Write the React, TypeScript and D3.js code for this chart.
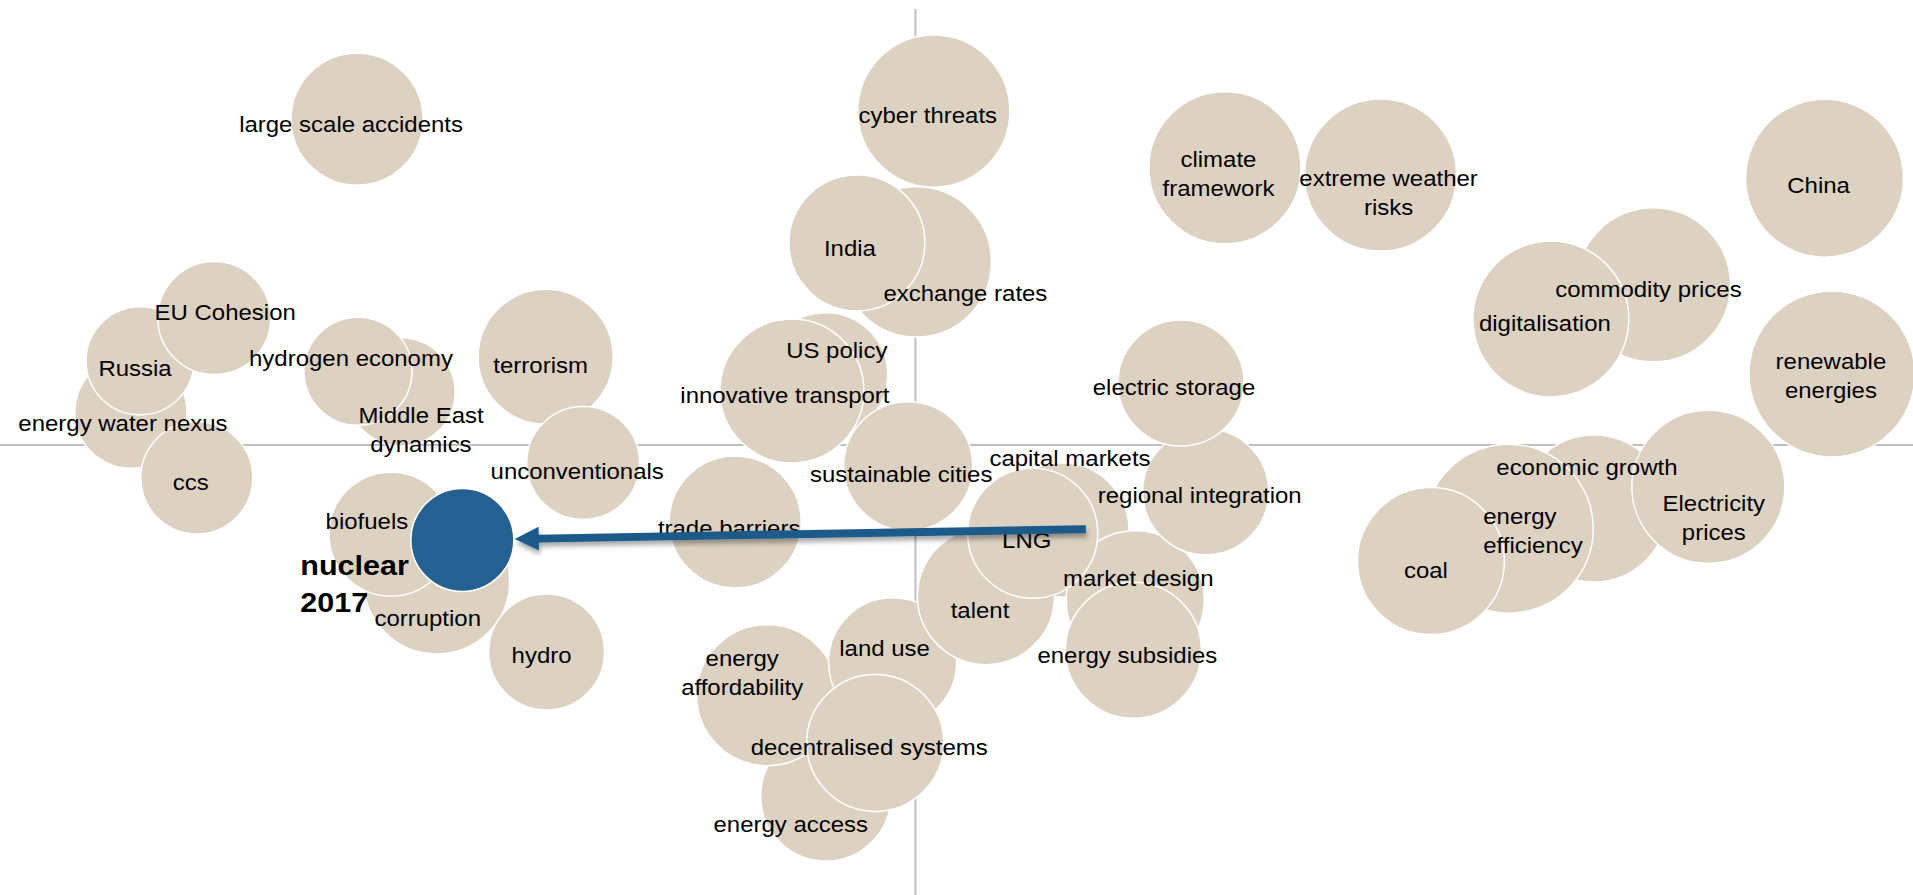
import * as d3 from 'd3';

const W = 1913;
const H = 895;

// topics, in drawing order (later ones sit on top of earlier ones)
const topics = [
  'energy water nexus', 'Russia', 'EU Cohesion', 'ccs', 'Middle East dynamics', 'hydrogen economy',
  'terrorism', 'unconventionals', 'corruption', 'biofuels', 'hydro', 'large scale accidents',
  'exchange rates', 'India', 'cyber threats', 'US policy', 'innovative transport', 'sustainable cities',
  'trade barriers', 'energy access', 'energy affordability', 'land use', 'decentralised systems',
  'capital markets', 'market design', 'energy subsidies', 'talent', 'LNG', 'regional integration',
  'electric storage', 'climate framework', 'extreme weather risks', 'China', 'commodity prices',
  'digitalisation', 'renewable energies', 'economic growth', 'Electricity prices', 'energy efficiency',
  'coal', 'nuclear',
];

// horizontal position (-100..100)
const xValues = [
  -85.7, -84.7, -76.6, -78.5, -56.2, -60.9,
  -40.4, -36.3, -52.3, -57.3, -40.3, -61.0,
  0.1, -6.4, 2.0, -9.8, -13.5, -0.8,
  -19.7, -9.8, -16.2, -2.5, -4.4,
  16.0, 24.0, 23.8, 7.7, 12.8, 31.7,
  29.0, 33.8, 50.8, 99.3, 80.6,
  69.4, 100.1, 74.1, 86.6, 64.8,
  56.3, -49.5,
];

// vertical position (-100..100)
const yValues = [
  7.3, 18.7, 28.2, -7.3, 11.8, 16.4,
  19.6, -4.0, -30.2, -19.8, -46.0, 72.4,
  40.7, 44.9, 74.2, 15.6, 12.0, -4.7,
  -17.1, -78.0, -55.6, -48.2, -66.2,
  -18.9, -34.4, -45.6, -33.6, -19.6, -10.4,
  13.8, 61.6, 60.0, 59.3, 35.6,
  28.0, 15.8, -14.1, -9.3, -18.6,
  -25.8, -21.1,
];

// bubble size
const sizes = [
  31.4, 29.2, 31.9, 31.4, 29.2, 29.2,
  45.6, 31.9, 53.3, 38.4, 33.6, 43.6,
  56.3, 46.2, 57.8, 38.4, 51.8, 41.6,
  43.6, 42.3, 49.7, 41.0, 46.9,
  44.9, 47.6, 46.2, 46.9, 42.3, 39.7,
  39.7, 57.8, 57.8, 62.4, 59.3,
  60.8, 68.9, 54.0, 58.5, 71.4,
  54.0, 26.5,
];

// where nuclear stood before (arrow tail)
const nuclearFrom = { x: 18.6, y: -18.7 };
const highlight = 'nuclear';

// label text broken in lines
const labelLines: Record<string, string[]> = {
  'Middle East dynamics': ['Middle East', 'dynamics'],
  'climate framework': ['climate', 'framework'],
  'extreme weather risks': ['extreme weather', 'risks'],
  'renewable energies': ['renewable', 'energies'],
  'energy affordability': ['energy', 'affordability'],
  'energy efficiency': ['energy', 'efficiency'],
  'Electricity prices': ['Electricity', 'prices'],
  'nuclear': ['nuclear', '2017'],
};

// label nudges in px from bubble centre
const labelNudge: Record<string, [number, number]> = {
  'energy water nexus': [-8, 11], 'Russia': [-5, 7], 'EU Cohesion': [11, -6], 'ccs': [-6, 4],
  'Middle East dynamics': [20, 37.5], 'hydrogen economy': [-7, -13], 'terrorism': [-5, 8],
  'unconventionals': [-6, 8], 'corruption': [-9, 37], 'biofuels': [-24, -13], 'hydro': [-5, 3],
  'large scale accidents': [-6, 5], 'exchange rates': [49, 31], 'India': [-7, 5], 'cyber threats': [-6, 4],
  'US policy': [11, -25], 'innovative transport': [-7, 4], 'sustainable cities': [-7, 8],
  'trade barriers': [-6, 6], 'energy access': [-35, 28], 'energy affordability': [-25, -22.5],
  'land use': [-8, -14], 'decentralised systems': [-6, 4], 'capital markets': [8, -72],
  'market design': [3, -22], 'energy subsidies': [-6, 5], 'talent': [-6, 14], 'LNG': [-6, 7],
  'regional integration': [-6, 3], 'electric storage': [-7, 4], 'climate framework': [-6.5, 5.5],
  'extreme weather risks': [8, 18], 'China': [-6, 7], 'commodity prices': [-5, 4],
  'digitalisation': [-6, 4], 'renewable energies': [-1, 1.5], 'economic growth': [-7, -41.5],
  'Electricity prices': [5.5, 30.5], 'energy efficiency': [-25.5, 2.5], 'coal': [-5, 9],
  'nuclear': [-162, 44],
};
const leftAligned = new Set(['energy efficiency', 'nuclear']);

const BUBBLE = '#ddd1c1';
const BLUE = '#246192';
const ARROW = '#1d5a8a';
const AXIS = '#bfbfbf';

export default function App() {
  const x = d3.scaleLinear().domain([-100, 100]).range([0, 1831]);
  const y = d3.scaleLinear().domain([-100, 100]).range([895, -5]);
  const r = d3.scaleSqrt().domain([0, 100]).range([0, 100]);

  const pts = topics.map((name, i) => ({
    name, cx: x(xValues[i]), cy: y(yValues[i]), r: r(sizes[i]),
  }));

  // arrow from old position to the nuclear bubble edge
  const nuc = pts.find(p => p.name === highlight)!;
  const fx = x(nuclearFrom.x), fy = y(nuclearFrom.y);
  const len = Math.hypot(fx - nuc.cx, fy - nuc.cy);
  const ux = (fx - nuc.cx) / len, uy = (fy - nuc.cy) / len;
  const nx = -uy, ny = ux;
  const tx = nuc.cx + ux * (nuc.r + 1), ty = nuc.cy + uy * (nuc.r + 1);
  const headL = 24, headW = 12, shaftW = 4;
  const bx = tx + ux * headL, by = ty + uy * headL;
  const arrowPts = [
    [tx, ty],
    [bx + nx * headW, by + ny * headW],
    [bx + nx * shaftW, by + ny * shaftW],
    [fx + nx * shaftW, fy + ny * shaftW],
    [fx - nx * shaftW, fy - ny * shaftW],
    [bx - nx * shaftW, by - ny * shaftW],
    [bx - nx * headW, by - ny * headW],
  ].map(p => p.join(',')).join(' ');

  return (
    <svg width={W} height={H} style={{ position: 'absolute', left: 0, top: 0, display: 'block' }}
      fontFamily="'Liberation Sans', Arial, sans-serif">
      <defs>
        <filter id="shadow" x="-10%" y="-200%" width="120%" height="500%">
          <feDropShadow dx="1" dy="4" stdDeviation="2.5" floodColor="#000" floodOpacity="0.35" />
        </filter>
      </defs>
      <rect width={W} height={H} fill="#fff" />

      {/* quadrant axes */}
      <line x1={0} x2={W} y1={y(0)} y2={y(0)} stroke={AXIS} strokeWidth={2} />
      <line x1={x(0)} x2={x(0)} y1={9} y2={H} stroke={AXIS} strokeWidth={2} />

      {pts.map(p => (
        <circle key={p.name} cx={p.cx} cy={p.cy} r={p.r}
          fill={p.name === highlight ? BLUE : BUBBLE} stroke="#fff" strokeWidth={1.5} />
      ))}

      {pts.map(p => {
        const lines = labelLines[p.name] || [p.name];
        const [dx, dy] = labelNudge[p.name] || [0, 0];
        const bold = p.name === highlight;
        const fs = bold ? 28 : 22;
        const lh = bold ? 37 : 29;
        const anchor = leftAligned.has(p.name) ? 'start' : 'middle';
        return lines.map((t, i) => {
          const ly = p.cy + dy + (i - (lines.length - 1) / 2) * lh;
          return (
            <text key={p.name + i} transform={`translate(${p.cx + dx},${ly}) scale(${bold ? 1.09 : 1.09},1)`}
              textAnchor={anchor} dy="0.35em" fontSize={fs} fontWeight={bold ? 700 : 400} fill="#000">
              {t}
            </text>
          );
        });
      })}

      <polygon points={arrowPts} fill={ARROW} filter="url(#shadow)" />
    </svg>
  );
}
